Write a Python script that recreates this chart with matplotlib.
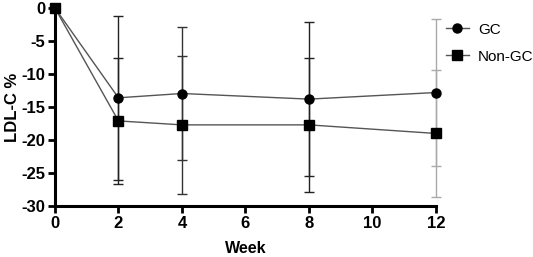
import matplotlib
matplotlib.use("Agg")
import matplotlib.pyplot as plt

weeks = [0, 2, 4, 8, 12]
gc_mean = [0, -13.6, -12.95, -13.8, -12.8]
gc_sd = [0, 12.4, 10.1, 11.6, 11.15]
nongc_mean = [0, -17.1, -17.7, -17.7, -19.0]
nongc_sd = [0, 9.5, 10.45, 10.15, 9.55]
xticks = [0, 2, 4, 6, 8, 10, 12]
yticks = [0, -5, -10, -15, -20, -25, -30]

plt.rcParams['font.family'] = ['Liberation Sans', 'DejaVu Sans']

fig = plt.figure(figsize=(5.33, 2.57), dpi=100)
ax = fig.add_axes([0.103, 0.198, 0.715, 0.771])

ecols = ['#222222', '#222222', '#333333', '#222222', '#aaaaaa']

for i, w in enumerate(weeks):
    if gc_sd[i] > 0:
        ax.errorbar([w], [gc_mean[i]], yerr=[gc_sd[i]], fmt='none', ecolor=ecols[i],
                    elinewidth=1.0, capsize=3.6, capthick=1.0, zorder=2, clip_on=False)
    if nongc_sd[i] > 0:
        ax.errorbar([w], [nongc_mean[i]], yerr=[nongc_sd[i]], fmt='none', ecolor=ecols[i],
                    elinewidth=1.0, capsize=3.6, capthick=1.0, zorder=2, clip_on=False)

ax.plot(weeks, gc_mean, color='#555555', lw=1.0, marker='o', ms=6.5,
        mfc='black', mec='black', label='GC', zorder=3, clip_on=False)
ax.plot(weeks, nongc_mean, color='#555555', lw=1.0, marker='s', ms=6.5,
        mfc='black', mec='black', label='Non-GC', zorder=3, clip_on=False)

ax.set_xlim(0, 12)
ax.set_ylim(-30, 0)
ax.set_xticks(xticks)
ax.set_yticks(yticks)
ax.set_xticklabels([str(t) for t in xticks], fontsize=12, fontweight='bold')
ax.set_yticklabels([str(t) for t in yticks], fontsize=12, fontweight='bold')
ax.spines['top'].set_visible(False)
ax.spines['right'].set_visible(False)
ax.spines['left'].set_linewidth(2.2)
ax.spines['bottom'].set_linewidth(2.2)
ax.tick_params(axis='both', direction='out', length=5, width=2, pad=2)
ax.set_xlabel('Week', fontsize=11.5, fontweight='bold', labelpad=7)
ax.set_ylabel('LDL-C %', fontsize=12, fontweight='bold', labelpad=1)

leg = fig.legend(loc='upper left', bbox_to_anchor=(0.825, 0.935), frameon=False,
                 fontsize=11, handlelength=1.5, handletextpad=0.6, labelspacing=0.85,
                 borderaxespad=0)

fig.savefig('out.png', dpi=100)
